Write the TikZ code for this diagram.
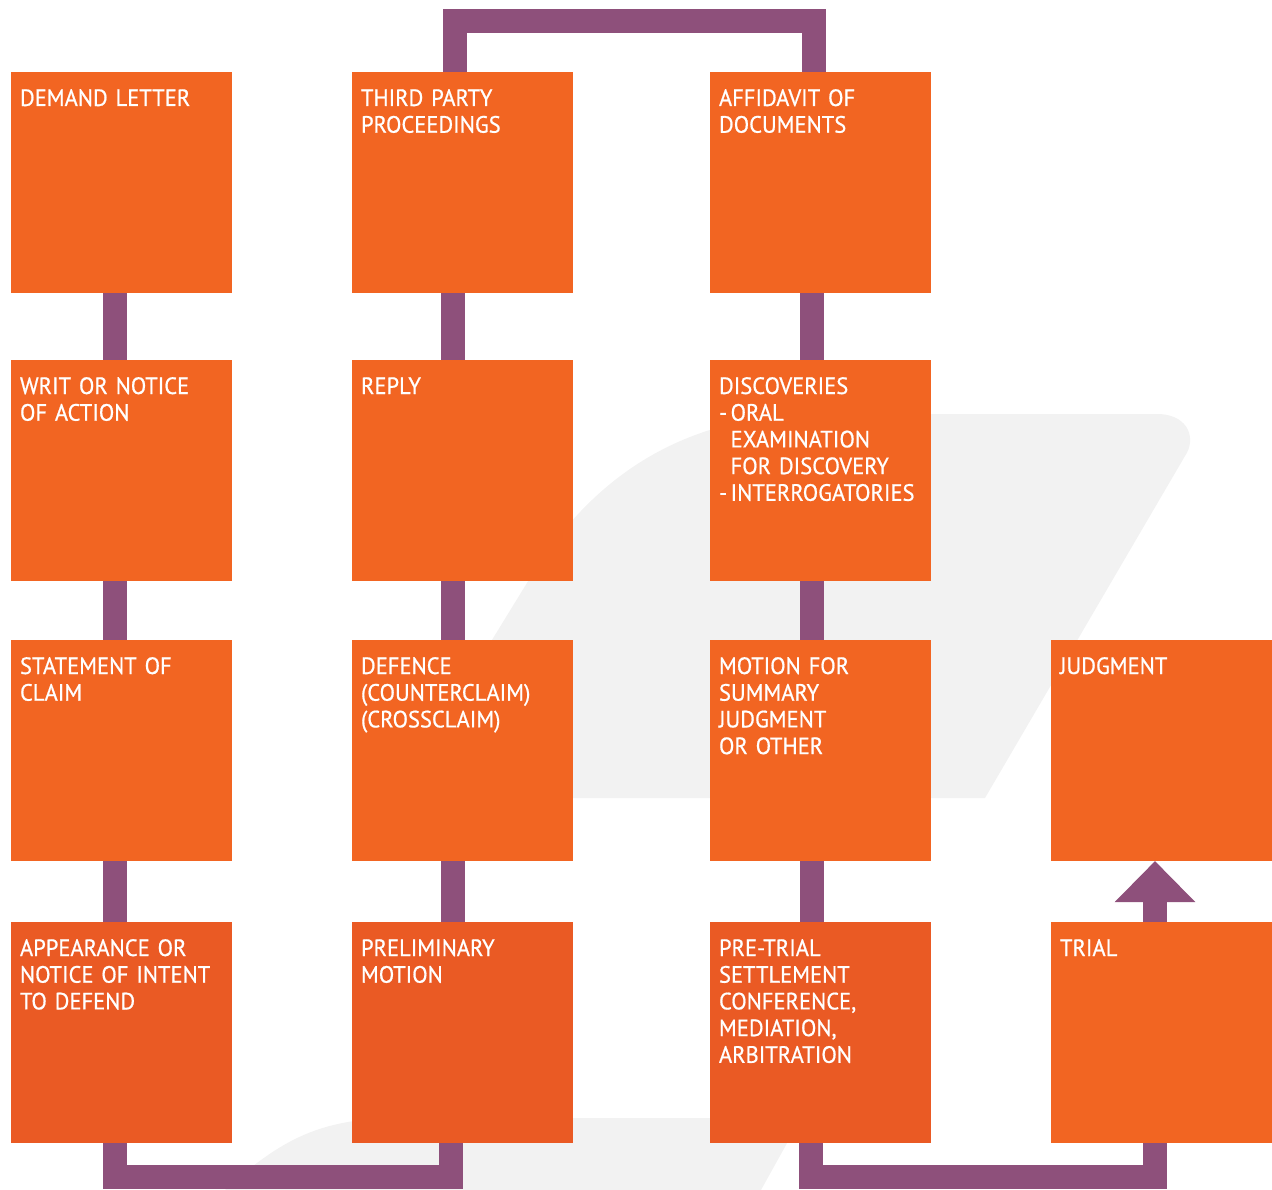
\documentclass[tikz,border=0pt]{standalone}
\usepackage{fontspec}
\setmainfont{PT Sans}[FakeStretch=0.955,FakeBold=0.7]
\usetikzlibrary{arrows.meta,backgrounds}
\definecolor{boxA}{HTML}{F26522}
\definecolor{boxB}{HTML}{EA5A24}
\definecolor{connC}{RGB}{142,80,123}
\definecolor{shadeC}{HTML}{F2F2F2}
\tikzset{
  stepbox/.style={rectangle, anchor=north west, minimum width=221pt, minimum height=221pt, inner sep=0pt, outer sep=0pt, draw=none},
  lbl/.style={anchor=base west, inner sep=0pt, outer sep=0pt, text width=215pt, align=left, text=white, font=\fontsize{23.6}{26.7}\selectfont},
  conn/.style={draw=connC, line width=24pt, line cap=butt, line join=miter}
}
\newcommand\mystep[5]{%
  \node[stepbox, fill=#4] (#1) at (#2,#3) {};
  \node[lbl] (#1T) at (#2+9,#3+34) {#5};
}
\newcommand\mydash{-\kern3.5pt}
\begin{document}
\begin{tikzpicture}[x=1pt,y=-1pt]
\useasboundingbox (0,0) rectangle (1272,1190);
% boxes
\mystep{demand}{11}{72}{boxA}{DEMAND LETTER}
\mystep{writ}{11}{360}{boxA}{WRIT OR NOTICE\\OF ACTION}
\mystep{stmt}{11}{640}{boxA}{STATEMENT OF\\CLAIM}
\mystep{appear}{11}{922}{boxB}{APPEARANCE OR\\NOTICE OF INTENT\\TO DEFEND}
\mystep{third}{352}{72}{boxA}{THIRD PARTY\\PROCEEDINGS}
\mystep{reply}{352}{360}{boxA}{REPLY}
\mystep{defence}{352}{640}{boxA}{DEFENCE\\(COUNTERCLAIM)\\(CROSSCLAIM)}
\mystep{prelim}{352}{922}{boxB}{PRELIMINARY\\MOTION}
\mystep{affid}{710}{72}{boxA}{AFFIDAVIT OF\\DOCUMENTS}
\mystep{discov}{710}{360}{boxA}{DISCOVERIES\\\mydash ORAL\\\hphantom{\mydash}EXAMINATION\\\hphantom{\mydash}FOR DISCOVERY\\\mydash INTERROGATORIES}
\mystep{motion}{710}{640}{boxA}{MOTION FOR\\SUMMARY\\JUDGMENT\\OR OTHER}
\mystep{pretrial}{710}{922}{boxB}{PRE-TRIAL\\SETTLEMENT\\CONFERENCE,\\MEDIATION,\\ARBITRATION}
\mystep{judg}{1051}{640}{boxA}{JUDGMENT}
\mystep{trial}{1051}{922}{boxA}{TRIAL}
\begin{scope}[on background layer]
% background decorative shapes
\fill[shadeC] (395,798) -- (530,578) .. controls (590,480) and (680,414) .. (820,414) -- (1160,414) .. controls (1190,416) and (1196,440) .. (1185,456) -- (985,798) -- cycle;
\fill[shadeC] (225,1190) .. controls (280,1140) and (320,1118) .. (400,1118) -- (801,1118) -- (761,1190) -- cycle;
% connectors
\draw[conn] ([xshift=-6.5pt]demand.south) -- ([xshift=-6.5pt]writ.north);
\draw[conn] ([xshift=-6.5pt]writ.south) -- ([xshift=-6.5pt]stmt.north);
\draw[conn] ([xshift=-6.5pt]stmt.south) -- ([xshift=-6.5pt]appear.north);
\draw[conn] ([xshift=-9.5pt]third.south) -- ([xshift=-9.5pt]reply.north);
\draw[conn] ([xshift=-9.5pt]reply.south) -- ([xshift=-9.5pt]defence.north);
\draw[conn] ([xshift=-9.5pt]defence.south) -- ([xshift=-9.5pt]prelim.north);
\draw[conn] ([xshift=-8.5pt]affid.south) -- ([xshift=-8.5pt]discov.north);
\draw[conn] ([xshift=-8.5pt]discov.south) -- ([xshift=-8.5pt]motion.north);
\draw[conn] ([xshift=-8.5pt]motion.south) -- ([xshift=-8.5pt]pretrial.north);
\draw[conn] ([xshift=-7.5pt]third.north) -- ++(0,-51) -| ([xshift=-6.5pt]affid.north);
\draw[conn] ([xshift=-6.5pt]appear.south) -- ++(0,34) -| ([xshift=-11.5pt]prelim.south);
\draw[conn] ([xshift=-9.5pt]pretrial.south) -- ++(0,34) -| ([xshift=-6.5pt]trial.south);
\draw[conn, -{Triangle[width=78pt,length=41pt]}] ([xshift=-6.5pt]trial.north) -- ([xshift=-6.5pt]judg.south);
\end{scope}
\end{tikzpicture}
\end{document}
